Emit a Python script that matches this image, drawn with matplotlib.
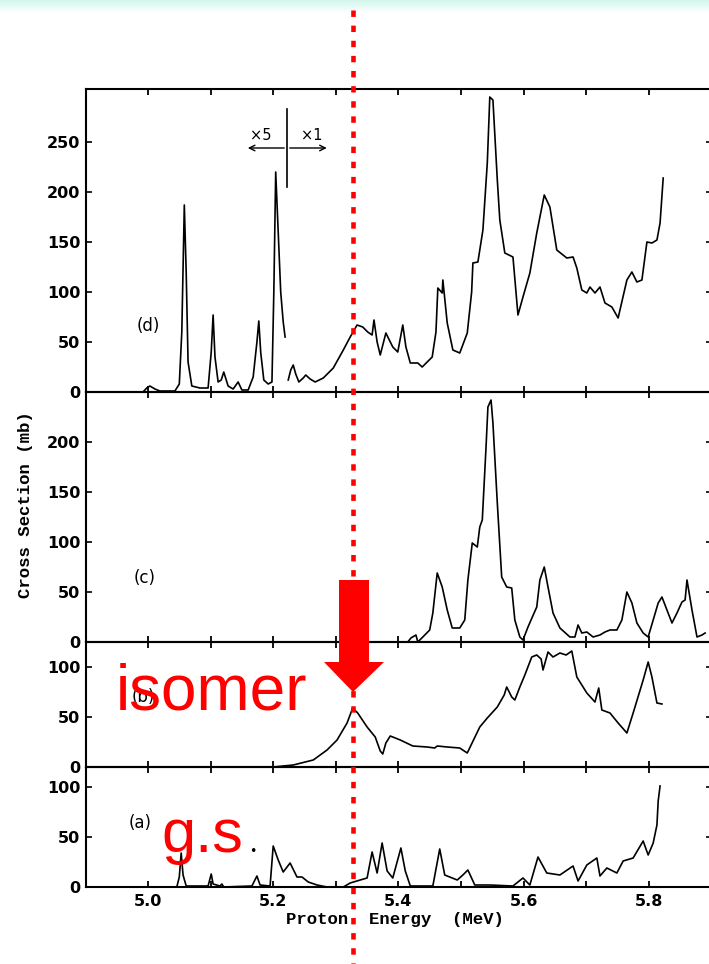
import numpy as np
import matplotlib
matplotlib.use("Agg")
import matplotlib.pyplot as plt
from matplotlib.colors import LinearSegmentedColormap
from matplotlib.patches import Polygon
from matplotlib.lines import Line2D

# ---- data (energy in MeV, cross section in mb)
# panel (d): x5 part and x1 part
d_e_low = [4.992, 4.998, 5.003, 5.011, 5.019, 5.043, 5.050, 5.054, 5.058, 5.061,
           5.064, 5.070, 5.083, 5.096, 5.101, 5.104, 5.107, 5.112, 5.117, 5.121,
           5.128, 5.136, 5.144, 5.150, 5.160, 5.168, 5.174, 5.177, 5.180, 5.185,
           5.192, 5.198, 5.201, 5.204, 5.208, 5.212, 5.216, 5.219]
d_cs_low = [0, 4, 6, 3, 1, 1, 8, 60, 187, 120,
            30, 6, 4, 4, 40, 77, 35, 10, 12, 20,
            6, 3, 10, 2, 2, 15, 50, 71, 40, 12,
            8, 10, 100, 220, 160, 100, 70, 55]
d_e_high = [5.224, 5.228, 5.232, 5.236, 5.241, 5.248, 5.252, 5.259, 5.267, 5.280,
            5.296, 5.312, 5.323, 5.334, 5.343, 5.351, 5.358, 5.361, 5.366, 5.371,
            5.380, 5.391, 5.399, 5.407, 5.412, 5.419, 5.431, 5.438, 5.454, 5.460,
            5.463, 5.470, 5.471, 5.478, 5.487, 5.498, 5.510, 5.517, 5.519, 5.527,
            5.535, 5.542, 5.546, 5.551, 5.558, 5.562, 5.570, 5.583, 5.591, 5.599,
            5.610, 5.621, 5.633, 5.642, 5.653, 5.669, 5.679, 5.685, 5.693, 5.701,
            5.706, 5.714, 5.722, 5.730, 5.741, 5.751, 5.765, 5.773, 5.781, 5.789,
            5.797, 5.805, 5.813, 5.818, 5.823]
d_cs_high = [12, 22, 27, 18, 10, 14, 17, 13, 10, 14,
             24, 42, 55, 67, 65, 60, 57, 72, 50, 37,
             59, 45, 40, 67, 45, 29, 29, 25, 35, 60,
             104, 99, 112, 69, 42, 39, 59, 100, 129, 130,
             162, 229, 295, 292, 212, 172, 139, 135, 77, 95,
             119, 159, 197, 185, 142, 134, 135, 124, 102, 99,
             105, 99, 105, 89, 85, 74, 112, 120, 110, 112,
             150, 149, 152, 169, 214]

# panel (c)
c_e = [5.415, 5.420, 5.428, 5.431, 5.439, 5.450, 5.455, 5.462, 5.470, 5.478,
       5.486, 5.498, 5.506, 5.511, 5.518, 5.526, 5.530, 5.534, 5.540, 5.543,
       5.548, 5.551, 5.558, 5.565, 5.573, 5.581, 5.586, 5.594, 5.599, 5.607,
       5.621, 5.626, 5.633, 5.639, 5.647, 5.658, 5.674, 5.682, 5.687, 5.693,
       5.701, 5.711, 5.722, 5.730, 5.738, 5.749, 5.757, 5.765, 5.773, 5.781,
       5.791, 5.799, 5.807, 5.815, 5.821, 5.829, 5.837, 5.845, 5.853, 5.858,
       5.861, 5.869, 5.877, 5.885, 5.890]
c_cs = [0, 4, 7, 0, 5, 12, 29, 69, 55, 32,
        14, 14, 22, 62, 99, 95, 115, 122, 195, 235,
        242, 219, 139, 65, 55, 54, 22, 5, 2, 15,
        35, 62, 75, 55, 29, 14, 5, 5, 17, 9,
        10, 5, 7, 10, 12, 12, 22, 50, 39, 19,
        9, 5, 22, 39, 45, 32, 19, 29, 40, 42,
        62, 32, 5, 7, 9]

# panel (b)
b_e = [4.901, 5.200, 5.216, 5.232, 5.264, 5.286, 5.302, 5.318, 5.327, 5.335,
       5.350, 5.363, 5.371, 5.375, 5.380, 5.387, 5.403, 5.423, 5.446, 5.458,
       5.462, 5.478, 5.498, 5.510, 5.530, 5.542, 5.558, 5.569, 5.573, 5.581,
       5.586, 5.594, 5.602, 5.613, 5.621, 5.628, 5.631, 5.639, 5.647, 5.658,
       5.668, 5.677, 5.685, 5.701, 5.714, 5.720, 5.725, 5.738, 5.751, 5.765,
       5.775, 5.791, 5.799, 5.805, 5.813, 5.821]
b_cs = [0, 0, 1, 2, 7, 17, 27, 44, 59, 54,
        40, 30, 16, 13, 24, 31, 27, 21, 20, 19,
        21, 20, 19, 14, 40, 49, 60, 72, 80, 70,
        67, 80, 92, 110, 112, 108, 97, 115, 110, 114,
        112, 116, 90, 74, 65, 79, 57, 54, 44, 34,
        54, 87, 105, 90, 64, 63]

# panel (a)
a_e = [4.901, 5.046, 5.050, 5.053, 5.056, 5.061, 5.096, 5.101, 5.104, 5.115,
       5.118, 5.121, 5.166, 5.174, 5.179, 5.195, 5.200, 5.208, 5.216, 5.227,
       5.238, 5.246, 5.256, 5.270, 5.286, 5.312, 5.323, 5.339, 5.350, 5.358,
       5.366, 5.374, 5.382, 5.391, 5.404, 5.411, 5.419, 5.455, 5.466, 5.474,
       5.494, 5.503, 5.511, 5.522, 5.546, 5.583, 5.599, 5.610, 5.623, 5.637,
       5.658, 5.679, 5.687, 5.701, 5.717, 5.722, 5.733, 5.749, 5.759, 5.775,
       5.791, 5.799, 5.807, 5.813, 5.815, 5.818]
a_cs = [0, 0, 10, 34, 12, 1, 1, 13, 3, 1,
        3, 0, 1, 11, 2, 1, 41, 27, 15, 24,
        10, 10, 5, 2, 0, 0, 4, 7, 9, 35,
        14, 44, 16, 9, 39, 16, 1, 1, 38, 12,
        7, 12, 17, 2, 2, 1, 9, 2, 30, 14,
        12, 21, 6, 22, 29, 11, 19, 14, 26, 29,
        46, 32, 44, 62, 86, 101]

panel_names = ["(d)", "(c)", "(b)", "(a)"]
y_limits = [303, 250, 125, 120]
y_ticks = [[0, 50, 100, 150, 200, 250], [0, 50, 100, 150, 200], [0, 50, 100], [0, 50, 100]]
x_ticks = [5.0, 5.1, 5.2, 5.3, 5.4, 5.5, 5.6, 5.7, 5.8, 5.9]
x_ticklabels = ["5.0", "", "5.2", "", "5.4", "", "5.6", "", "5.8", ""]
marker_energy = 5.327

W, H = 709, 964
fig = plt.figure(figsize=(W / 100, H / 100), dpi=100)


def fx(px):
    return px / W


def fy(py):
    return 1 - py / H


# panel edges in pixels: (top, bottom)
edges = [(89, 392), (392, 642), (642, 767), (767, 887)]
left_px, right_px = 86, 712
xlim = (5.0 + (left_px - 148) / 626, 5.0 + (right_px - 148) / 626)

axes = []
for i, (top, bot) in enumerate(edges):
    ax = fig.add_axes([fx(left_px), fy(bot), fx(right_px) - fx(left_px), (bot - top) / H])
    ax.set_xlim(*xlim)
    ax.set_ylim(0, y_limits[i])
    ax.set_xticks(x_ticks)
    ax.set_yticks(y_ticks[i])
    if i == 3:
        ax.set_xticklabels(x_ticklabels)
    else:
        ax.set_xticklabels([])
    ax.tick_params(axis="x", direction="in", top=True, bottom=True, length=4.5,
                   width=1.3, labelsize=11.5, pad=5)
    ax.tick_params(axis="y", direction="in", left=True, right=True, length=4,
                   width=1.2, labelsize=11.5, pad=4)
    for lab in ax.get_xticklabels() + ax.get_yticklabels():
        lab.set_fontweight("bold")
        lab.set_family("DejaVu Sans")
    for sp in ax.spines.values():
        sp.set_linewidth(1.5)
    ax.patch.set_alpha(0)
    axes.append(ax)

ax_d, ax_c, ax_b, ax_a = axes
line_kw = dict(color="black", lw=1.2)
ax_d.plot(d_e_low, d_cs_low, **line_kw)
ax_d.plot(d_e_high, d_cs_high, **line_kw)
ax_c.plot(c_e, c_cs, **line_kw)
ax_b.plot(b_e, b_cs, **line_kw)
ax_a.plot(a_e, a_cs, **line_kw)

label_pos = [(5.0, 66), (4.995, 64), (4.992, 70), (4.987, 64)]
for ax, name, (lx, ly) in zip(axes, panel_names, label_pos):
    ax.text(lx, ly, name, fontsize=12, ha="center", va="center")

# x5 / x1 marker in panel (d)
ax_d.plot([5.222, 5.222], [205, 283], color="black", lw=1.2)
ax_d.annotate("", xy=(5.155, 244), xytext=(5.222, 244),
              arrowprops=dict(arrowstyle="->", lw=1.0, color="black"))
ax_d.annotate("", xy=(5.290, 244), xytext=(5.222, 244),
              arrowprops=dict(arrowstyle="->", lw=1.0, color="black"))
ax_d.text(5.180, 257, "×5", fontsize=10.5, ha="center", va="center")
ax_d.text(5.262, 257, "×1", fontsize=10.5, ha="center", va="center")

ax_c.set_ylabel("Cross Section (mb)", family="Liberation Mono", fontweight="bold",
                fontsize=12.5, labelpad=6)
ax_c.yaxis.set_label_coords((33 - left_px) / (right_px - left_px), 0.55)
ax_a.set_xlabel("Proton  Energy  (MeV)", family="Liberation Mono", fontweight="bold",
                fontsize=12.5, labelpad=1)
ax_a.xaxis.set_label_coords((395 - left_px) / (right_px - left_px), -0.21)

# light teal strip across the top
grad_ax = fig.add_axes([0, fy(13), 1, 13 / H])
cmap = LinearSegmentedColormap.from_list("strip", ["#d2f6ec", "#ffffff"])
grad_ax.imshow(np.linspace(0, 1, 50).reshape(-1, 1), aspect="auto", cmap=cmap)
grad_ax.axis("off")

# red dotted marker line, arrow and labels
mx = fx(148 + (marker_energy - 5.0) * 626)
fig.add_artist(Line2D([mx, mx], [fy(10), 0], transform=fig.transFigure, color="red",
                      lw=3.3, linestyle=(0, (1.4, 1.9)), dash_capstyle="butt", zorder=5))
arrow_px = [(339, 580), (369, 580), (369, 662), (384, 662), (353, 692), (324, 662), (339, 662)]
fig.add_artist(Polygon([(fx(x), fy(y)) for x, y in arrow_px], closed=True,
                       transform=fig.transFigure, facecolor="red", edgecolor="none", zorder=6))
fig.text(fx(116), fy(710), "isomer", color="red", fontsize=46, family="Liberation Sans",
         ha="left", va="baseline", zorder=7)
fig.text(fx(161), fy(852), "g.s", color="red", fontsize=44, family="Liberation Sans",
         ha="left", va="baseline", zorder=7)
fig.text(fx(253), fy(851), "•", color="black", fontsize=9, ha="center", va="center", zorder=7)

fig.savefig("out.png", dpi=100)
